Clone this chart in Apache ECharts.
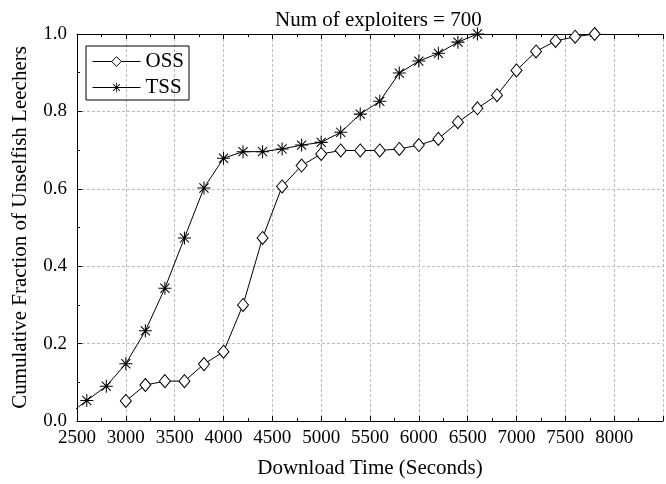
<!DOCTYPE html>
<html>
<head>
<meta charset="utf-8">
<script src="https://cdn.jsdelivr.net/npm/echarts@6/dist/echarts.min.js"></script>
<style>
  html, body { margin: 0; padding: 0; background: #fff; }
  #chart { width: 666px; height: 484px; }
</style>
</head>
<body>
<div id="chart"></div>
<script>
// Download times (seconds) and cumulative fractions
const ossTimes = [3000, 3200, 3400, 3600, 3800, 4000, 4200, 4400, 4600, 4800, 5000, 5200, 5400, 5600, 5800, 6000, 6200, 6400, 6600, 6800, 7000, 7200, 7400, 7600, 7800];
const ossFraction = [0.052, 0.093, 0.103, 0.103, 0.147, 0.179, 0.300, 0.473, 0.606, 0.660, 0.690, 0.699, 0.699, 0.699, 0.703, 0.713, 0.729, 0.772, 0.808, 0.842, 0.906, 0.955, 0.982, 0.993, 1.0];

const tssTimes = [2400, 2600, 2800, 3000, 3200, 3400, 3600, 3800, 4000, 4200, 4400, 4600, 4800, 5000, 5200, 5400, 5600, 5800, 6000, 6200, 6400, 6600];
const tssFraction = [0.014, 0.053, 0.090, 0.148, 0.233, 0.343, 0.473, 0.602, 0.679, 0.696, 0.696, 0.703, 0.713, 0.720, 0.746, 0.793, 0.826, 0.899, 0.930, 0.950, 0.979, 1.0];

const titleText = 'Num of exploiters = 700';
const xTitle = 'Download Time (Seconds)';
const yTitle = 'Cumulative Fraction of Unselfish Leechers';

const FONT = '"Liberation Serif", "DejaVu Serif", serif';

// eight-armed asterisk marker built from four thin bars
const asterisk = 'path://M46 0L54 0L54 100L46 100Z' +
  'M0 46L100 46L100 54L0 54Z' +
  'M17.8 12.2L87.8 82.2L82.2 87.8L12.2 17.8Z' +
  'M87.8 17.8L17.8 87.8L12.2 82.2L82.2 12.2Z';

const toPairs = (xs, ys) => xs.map((x, i) => [x, ys[i]]);

const gridDash = { color: '#bdbdbd', type: [3, 2], width: 1 };

const chart = echarts.init(document.getElementById('chart'), null, { renderer: 'canvas' });

chart.setOption({
  animation: false,
  backgroundColor: '#fff',
  title: {
    text: titleText,
    left: 275,
    top: 10,
    padding: 0,
    textStyle: { fontFamily: FONT, fontSize: 21, fontWeight: 'normal', color: '#000' }
  },
  legend: {
    left: 86,
    top: 46,
    orient: 'vertical',
    borderColor: '#000',
    borderWidth: 1,
    padding: [5, 5, 2, 6],
    itemWidth: 48,
    itemHeight: 12,
    itemGap: 5,
    lineStyle: { width: 1, color: '#000' },
    textStyle: { fontFamily: FONT, fontSize: 21, color: '#000', lineHeight: 21 },
    data: [
      { name: 'OSS', itemStyle: { color: '#fff', borderColor: '#000', borderWidth: 1 } },
      { name: 'TSS', itemStyle: { color: '#000', borderWidth: 0 } }
    ]
  },
  grid: { left: 77, right: -16, top: 34, bottom: 62, containLabel: false },
  xAxis: [
    {
      type: 'value',
      min: 2500,
      max: 8500,
      interval: 500,
      name: xTitle,
      nameLocation: 'middle',
      nameGap: 37,
      nameTextStyle: { fontFamily: FONT, fontSize: 21, color: '#000' },
      axisLine: { show: true, onZero: false, lineStyle: { color: '#000', width: 1 } },
      axisTick: { show: true, inside: true, length: 5, lineStyle: { color: '#000' } },
      minorTick: { show: true, splitNumber: 2, length: 3, lineStyle: { color: '#000' } },
      axisLabel: {
        fontFamily: FONT, fontSize: 19, color: '#000', margin: 8,
        formatter: v => (v <= 8000 ? String(v) : '')
      },
      splitLine: { show: true, lineStyle: gridDash }
    },
    {
      type: 'value',
      position: 'top',
      min: 2500,
      max: 8500,
      interval: 500,
      axisLine: { show: true, onZero: false, lineStyle: { color: '#000', width: 1 } },
      axisTick: { show: true, inside: true, length: 5, lineStyle: { color: '#000' } },
      minorTick: { show: true, splitNumber: 2, length: 3, lineStyle: { color: '#000' } },
      axisLabel: { show: false },
      splitLine: { show: false }
    }
  ],
  yAxis: [
    {
      type: 'value',
      min: 0,
      max: 1,
      interval: 0.2,
      name: yTitle,
      nameLocation: 'middle',
      nameGap: 46,
      nameTextStyle: { fontFamily: FONT, fontSize: 21, color: '#000' },
      axisLine: { show: true, onZero: false, lineStyle: { color: '#000', width: 1 } },
      axisTick: { show: true, inside: true, length: 5, lineStyle: { color: '#000' } },
      minorTick: { show: true, splitNumber: 2, length: 3, lineStyle: { color: '#000' } },
      axisLabel: {
        fontFamily: FONT, fontSize: 19, color: '#000', margin: 10,
        formatter: v => v.toFixed(1)
      },
      splitLine: { show: true, lineStyle: gridDash }
    }
  ],
  series: [
    {
      name: 'OSS',
      type: 'line',
      data: toPairs(ossTimes, ossFraction),
      symbol: 'diamond',
      symbolSize: [11, 13],
      showAllSymbol: true,
      clip: true,
      lineStyle: { color: '#000', width: 1 },
      itemStyle: { color: '#fff', borderColor: '#000', borderWidth: 1 },
      z: 3
    },
    {
      name: 'TSS',
      type: 'line',
      data: toPairs(tssTimes, tssFraction),
      symbol: asterisk,
      symbolSize: 13,
      showAllSymbol: true,
      clip: true,
      lineStyle: { color: '#000', width: 1 },
      itemStyle: { color: '#000', borderWidth: 0 },
      z: 3
    }
  ]
});
</script>
</body>
</html>
